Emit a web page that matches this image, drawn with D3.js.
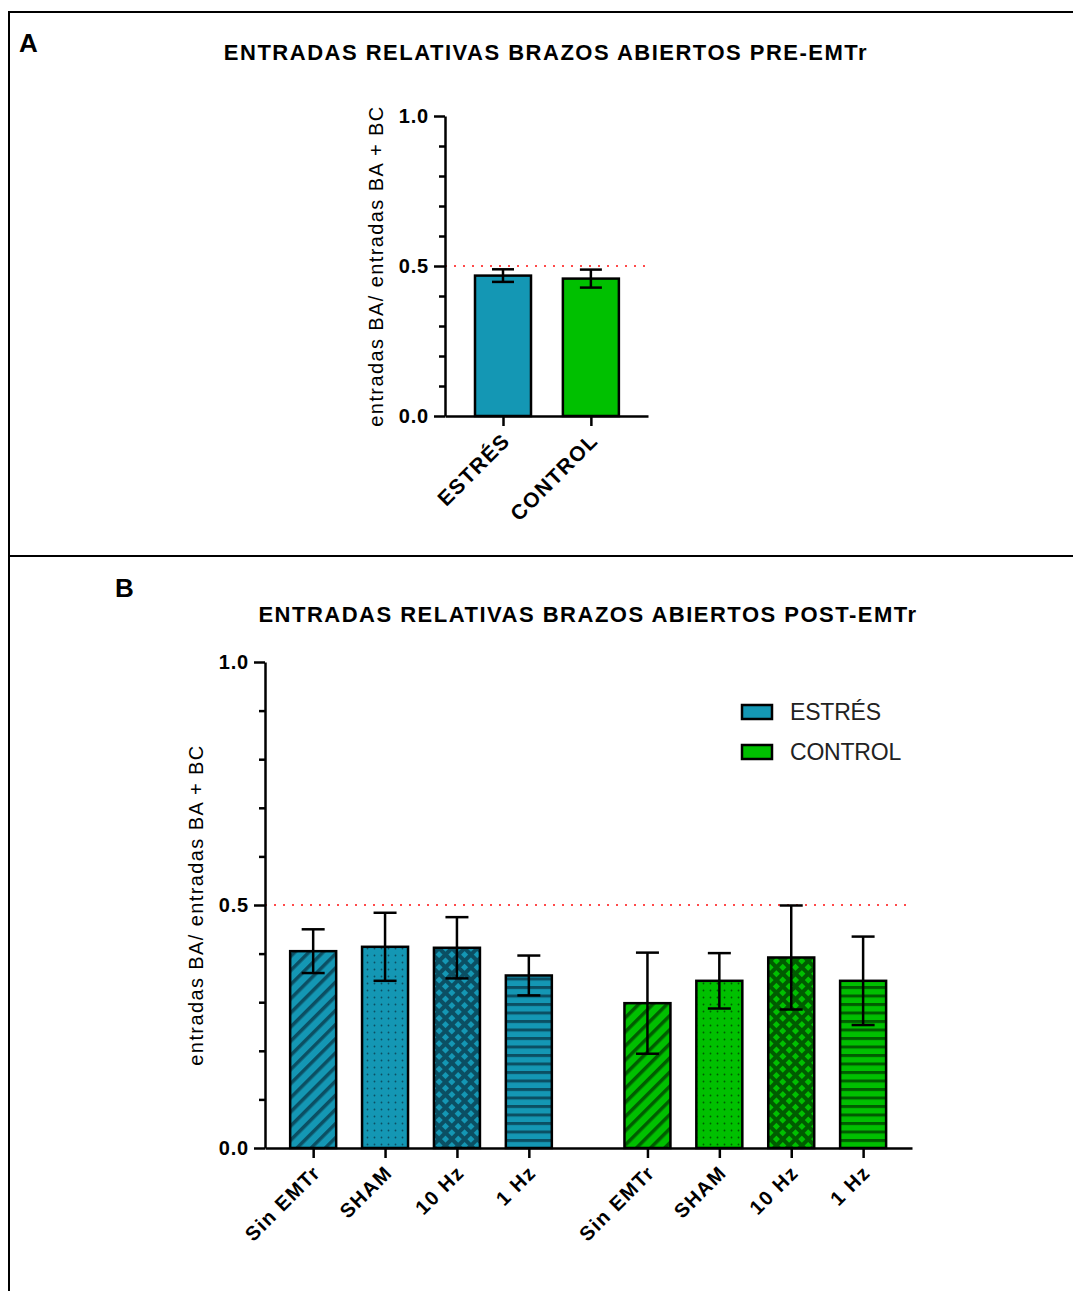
<!DOCTYPE html>
<html>
<head>
<meta charset="utf-8">
<title>Entradas relativas brazos abiertos</title>
<script src="https://d3js.org/d3.v7.min.js"></script>
<style>
body { margin: 0; background: #fff; }
svg { display: block; font-family: "Liberation Sans", Arial, sans-serif; }
.axis path, .axis line { stroke: #000; stroke-width: 2.5px; }
</style>
</head>
<body>
<script>
// panel A: pre-EMTr
const groupsA = ["ESTRÉS", "CONTROL"]
const meanA = [0.468, 0.458]
const errA = [0.021, 0.030]

// panel B: post-EMTr
const treatB = ["Sin EMTr", "SHAM", "10 Hz", "1 Hz", "Sin EMTr", "SHAM", "10 Hz", "1 Hz"]
const groupB = ["ESTRÉS", "ESTRÉS", "ESTRÉS", "ESTRÉS", "CONTROL", "CONTROL", "CONTROL", "CONTROL"]
const meanB = [0.405, 0.414, 0.412, 0.355, 0.298, 0.344, 0.392, 0.344]
const errB = [0.045, 0.070, 0.063, 0.041, 0.104, 0.057, 0.107, 0.091]
const patternB = ["diag", "dots", "cross", "hstripe", "diag", "dots", "cross", "hstripe"]

const yTicks = [0, 0.5, 1.0]
const yMinor = [0.1, 0.2, 0.3, 0.4, 0.6, 0.7, 0.8, 0.9]
const legendKeys = ["ESTRÉS", "CONTROL"]

const fillOf = {"ESTRÉS": "#1497b4", "CONTROL": "#00c000"}
const darkOf = {"ESTRÉS": "#0b4f63", "CONTROL": "#005c00"}

const W = 1073, H = 1291
const svg = d3.select("body").append("svg").attr("width", W).attr("height", H)
const defs = svg.append("defs")

// hatch patterns for panel B
legendKeys.forEach(function(g, gi) {
  const c = fillOf[g], d = darkOf[g]
  let p = defs.append("pattern").attr("id", "diag" + gi).attr("patternUnits", "userSpaceOnUse")
    .attr("width", 10).attr("height", 10).attr("patternTransform", "rotate(45)")
  p.append("rect").attr("width", 10).attr("height", 10).attr("fill", c)
  p.append("rect").attr("width", 3.5).attr("height", 10).attr("fill", d)

  p = defs.append("pattern").attr("id", "dots" + gi).attr("patternUnits", "userSpaceOnUse")
    .attr("width", 7).attr("height", 7)
  p.append("rect").attr("width", 7).attr("height", 7).attr("fill", c)
  p.append("circle").attr("cx", 3.5).attr("cy", 3.5).attr("r", 0.9).attr("fill", d)

  p = defs.append("pattern").attr("id", "cross" + gi).attr("patternUnits", "userSpaceOnUse")
    .attr("width", 9).attr("height", 9).attr("patternTransform", "rotate(45)")
  p.append("rect").attr("width", 9).attr("height", 9).attr("fill", d)
  p.append("rect").attr("x", 2).attr("y", 2).attr("width", 5).attr("height", 5).attr("fill", c)

  p = defs.append("pattern").attr("id", "hstripe" + gi).attr("patternUnits", "userSpaceOnUse")
    .attr("width", 10).attr("height", 8.5)
  p.append("rect").attr("width", 10).attr("height", 8.5).attr("fill", c)
  p.append("rect").attr("y", 0).attr("width", 10).attr("height", 3).attr("fill", d)
})

// frame
svg.append("line").attr("x1", 9).attr("x2", W).attr("y1", 12).attr("y2", 12).attr("stroke", "#000").attr("stroke-width", 2)
svg.append("line").attr("x1", 9).attr("x2", W).attr("y1", 556).attr("y2", 556).attr("stroke", "#000").attr("stroke-width", 2)
svg.append("line").attr("x1", 9).attr("x2", 9).attr("y1", 11).attr("y2", H).attr("stroke", "#000").attr("stroke-width", 2)

function panel(opts) {
  const g = svg.append("g")
  const y = d3.scaleLinear().domain([0, 1]).range([opts.y0, opts.y1])
  const x = d3.scaleLinear().domain(opts.xDomain).range([opts.x0, opts.x1])

  g.append("text").attr("x", opts.letterX).attr("y", opts.letterY)
    .attr("font-size", 26).attr("font-weight", "bold").text(opts.letter)
  g.append("text").attr("x", opts.titleX).attr("y", opts.titleY).attr("text-anchor", "middle")
    .attr("font-size", 22).attr("font-weight", "bold").attr("letter-spacing", 1.5).text(opts.title)

  // reference line at 0.5
  g.append("line").attr("x1", opts.x0).attr("x2", opts.x1)
    .attr("y1", y(0.5)).attr("y2", y(0.5))
    .attr("stroke", "#ff4a4a").attr("stroke-width", 2).attr("stroke-dasharray", "2,7")

  const bw = opts.bw
  g.selectAll(".bar").data(opts.data).join("rect")
    .attr("x", d => x(d.pos) - bw / 2).attr("width", bw)
    .attr("y", d => y(d.mean)).attr("height", d => y(0) - y(d.mean))
    .attr("fill", d => d.fill).attr("stroke", "#000").attr("stroke-width", 2.5)

  const cap = opts.cap
  const eb = g.selectAll(".eb").data(opts.data).join("g")
  eb.append("line").attr("x1", d => x(d.pos)).attr("x2", d => x(d.pos))
    .attr("y1", d => y(d.mean - d.err)).attr("y2", d => y(d.mean + d.err))
  eb.append("line").attr("x1", d => x(d.pos) - cap / 2).attr("x2", d => x(d.pos) + cap / 2)
    .attr("y1", d => y(d.mean + d.err)).attr("y2", d => y(d.mean + d.err))
  eb.append("line").attr("x1", d => x(d.pos) - cap / 2).attr("x2", d => x(d.pos) + cap / 2)
    .attr("y1", d => y(d.mean - d.err)).attr("y2", d => y(d.mean - d.err))
  eb.selectAll("line").attr("stroke", "#000").attr("stroke-width", 2.5)

  // y axis
  const ya = g.append("g").attr("class", "axis").attr("transform", "translate(" + opts.x0 + ",0)")
    .call(d3.axisLeft(y).tickValues(yTicks).tickFormat(d3.format(".1f")).tickSize(11).tickSizeOuter(0))
  ya.selectAll("text").attr("font-size", 20).attr("font-weight", "bold").attr("fill", "#000")
    .attr("letter-spacing", 0.8).attr("font-family", "Liberation Sans, Arial, sans-serif").attr("dx", -2)
  g.append("g").attr("class", "axis").attr("transform", "translate(" + opts.x0 + ",0)")
    .call(d3.axisLeft(y).tickValues(yMinor).tickFormat("").tickSize(6).tickSizeOuter(0))
    .select(".domain").remove()

  // x axis
  const xa = g.append("g").attr("class", "axis").attr("transform", "translate(0," + opts.y0 + ")")
    .call(d3.axisBottom(x).tickValues(opts.data.map(d => d.pos)).tickSize(10).tickSizeOuter(0))
  xa.selectAll(".tick text").data(opts.data).text(d => d.label)
    .attr("font-size", opts.labelSize).attr("font-weight", "bold").attr("fill", "#000")
    .attr("letter-spacing", 1.4).attr("font-family", "Liberation Sans, Arial, sans-serif")
    .attr("text-anchor", "end").attr("dy", 0).attr("y", 0)
    .attr("transform", "translate(8,26) rotate(-45)")

  g.append("text").attr("transform", "translate(" + opts.labX + "," + ((opts.y0 + opts.y1) / 2) + ") rotate(-90)")
    .attr("text-anchor", "middle").attr("font-size", 20).attr("letter-spacing", 1.4)
    .text("entradas BA/ entradas BA + BC")
  return {x: x, y: y, g: g}
}

panel({
  letter: "A", letterX: 19, letterY: 52,
  title: "ENTRADAS RELATIVAS BRAZOS ABIERTOS PRE-EMTr", titleX: 546, titleY: 60,
  x0: 445, x1: 648, y0: 416, y1: 116, xDomain: [-0.66, 1.65], bw: 56, cap: 22, labX: 383, labelSize: 21,
  data: groupsA.map((k, i) => ({pos: i, label: k, mean: meanA[i], err: errA[i], fill: fillOf[k]}))
})

const slot = treatB.map((t, i) => i + (i >= 4 ? 0.65 : 0))
const pb = panel({
  letter: "B", letterX: 115, letterY: 597,
  title: "ENTRADAS RELATIVAS BRAZOS ABIERTOS POST-EMTr", titleX: 588, titleY: 622,
  x0: 265, x1: 912, y0: 1148, y1: 662, xDomain: [-0.67, 8.33], bw: 46, cap: 23, labX: 203, labelSize: 20,
  data: treatB.map((t, i) => ({pos: slot[i], label: t, mean: meanB[i], err: errB[i],
    fill: "url(#" + patternB[i] + legendKeys.indexOf(groupB[i]) + ")"}))
})

// legend
const lg = svg.append("g").attr("transform", "translate(742,712)")
const li = lg.selectAll("g").data(legendKeys).join("g").attr("transform", (d, i) => "translate(0," + i * 40 + ")")
li.append("rect").attr("x", 0).attr("y", -7).attr("width", 30).attr("height", 14)
  .attr("fill", d => fillOf[d]).attr("stroke", "#000").attr("stroke-width", 2.5)
li.append("text").attr("x", 48).attr("y", 8).attr("font-size", 23).attr("letter-spacing", -0.2)
  .attr("fill", "#222").text(d => d)
</script>
</body>
</html>
